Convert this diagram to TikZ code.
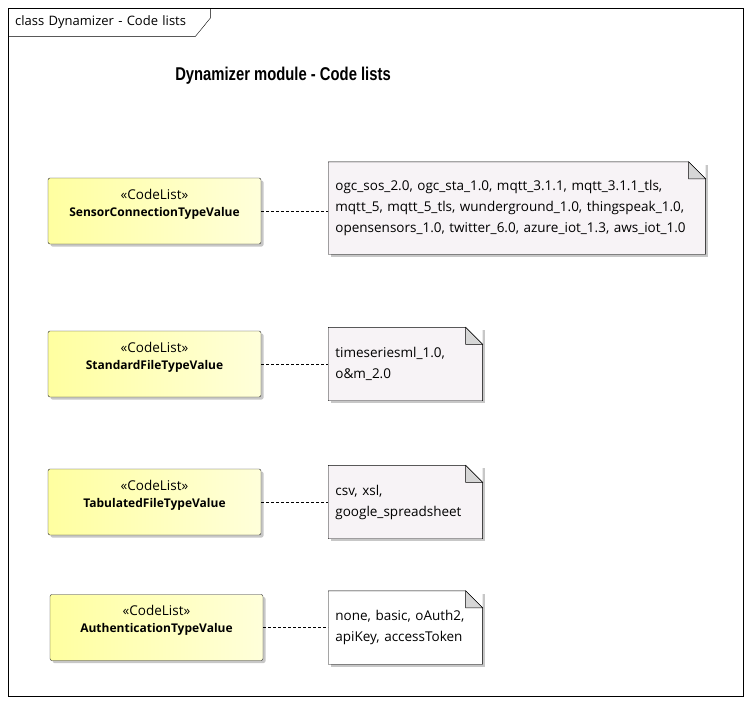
\documentclass[tikz,border=0pt]{standalone}
\usepackage{fontspec}
\setmainfont{Open Sans}
\newfontfamily\titlefont[FakeStretch=0.8]{Liberation Sans}
\usetikzlibrary{positioning,shadows}

\definecolor{clsleft}{RGB}{255,255,160}
\definecolor{clsright}{RGB}{255,255,218}
\definecolor{notefill}{RGB}{247,243,246}
\definecolor{foldgray}{RGB}{214,214,214}

\newcommand{\fold}{17pt}
\newcommand{\clname}[1]{{\bfseries\fontsize{12}{17}\selectfont #1}\\[-5pt]\strut}
% folded corner and outline of a note
\newcommand{\notefold}[1]{%
  \fill[white] ([xshift=-\fold]#1.north east) -- (#1.north east) -- ([yshift=-\fold]#1.north east) -- cycle;
  \filldraw[draw=black, fill=foldgray] ([xshift=-\fold]#1.north east) |- ([yshift=-\fold]#1.north east) -- cycle;
  \draw (#1.north west) -- ([xshift=-\fold]#1.north east) -- ([yshift=-\fold]#1.north east)
    -- (#1.south east) -- (#1.south west) -- cycle;}

\begin{document}
\begin{tikzpicture}[
    x=1pt, y=-1pt,
    every node/.style={inner sep=0pt, font=\fontsize{13.5}{17}\selectfont},
    codelist/.style={draw=black!85, rounded corners=2pt, left color=clsleft, right color=clsright,
        minimum width=213pt, minimum height=66pt, align=center,
        drop shadow={shadow xshift=2.5pt, shadow yshift=-2.5pt, fill=black!22, opacity=1}},
    note/.style={fill=notefill, inner xsep=7pt, text width=#1, align=left,
        font=\fontsize{13.5}{21}\selectfont,
        drop shadow={shadow xshift=2.5pt, shadow yshift=-2.5pt, fill=black!22, opacity=1}},
    link/.style={draw, dash pattern=on 3pt off 2pt}
]
\useasboundingbox (0,0) rectangle (751,704);

% frame
\draw (8,8) rectangle (743,696);
\node[anchor=north west, minimum width=180pt, minimum height=28pt, text width=173pt, align=left,
    inner xsep=7pt, font=\fontsize{13}{14}\selectfont] (frame) at (8,8) {class Dynamizer - Code lists};
\draw ([xshift=15pt]frame.north east) -- ++(0,10) -- (frame.south east) -- (frame.south west);

\node[font=\titlefont\bfseries\fontsize{18.5}{20}\selectfont] (title) at (283,76) {Dynamizer module - Code lists};

% code lists
\node[codelist] (sct) at (154.5,211) {«CodeList»\\\clname{SensorConnectionTypeValue}};
\node[codelist] (sft) at (154.5,364) {«CodeList»\\\clname{StandardFileTypeValue}};
\node[codelist] (tft) at (154.5,502) {«CodeList»\\\clname{TabulatedFileTypeValue}};
\node[codelist] (aut) at (156.5,627.5) {«CodeList»\\\clname{AuthenticationTypeValue}};

% notes
\node[note=363pt, minimum height=92pt, right=67pt of sct, yshift=3pt] (sctnote)
    {ogc\_sos\_2.0, ogc\_sta\_1.0, mqtt\_3.1.1, mqtt\_3.1.1\_tls,\\
     mqtt\_5, mqtt\_5\_tls, wunderground\_1.0, thingspeak\_1.0,\\
     opensensors\_1.0, twitter\_6.0, azure\_iot\_1.3, aws\_iot\_1.0};
\node[note=140pt, minimum height=73pt, right=67pt of sft] (sftnote)
    {timeseriesml\_1.0,\\ o\&m\_2.0};
\node[note=140pt, minimum height=73pt, right=67pt of tft] (tftnote)
    {csv, xsl,\\ google\_spreadsheet};
\node[note=140pt, minimum height=73pt, right=65pt of aut, fill=white] (autnote)
    {none, basic, oAuth2,\\ apiKey, accessToken};

\notefold{sctnote}
\notefold{sftnote}
\notefold{tftnote}
\notefold{autnote}

\draw[link] (sct.east) -- (sct.east -| sctnote.west);
\draw[link] (sft.east) -- (sftnote.west);
\draw[link] (tft.east) -- (tftnote.west);
\draw[link] (aut.east) -- (autnote.west);
\end{tikzpicture}
\end{document}
